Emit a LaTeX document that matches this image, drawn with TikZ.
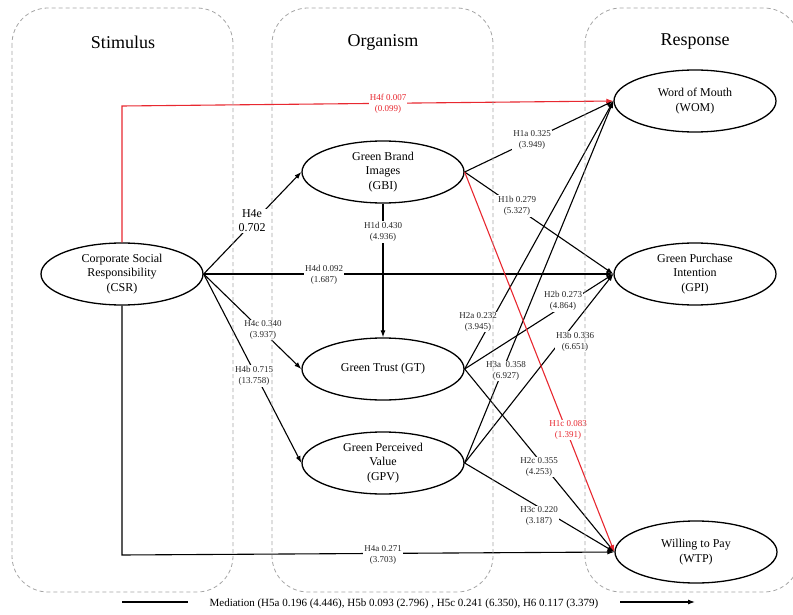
\documentclass[tikz,border=0pt]{standalone}
\usepackage{fontspec}
\setmainfont{Liberation Serif}
\usetikzlibrary{shapes.geometric,arrows.meta}
\definecolor{hred}{RGB}{232,40,48}
\definecolor{panelgray}{RGB}{165,165,165}
\begin{document}
\begin{tikzpicture}[x=1pt,y=-1pt,
  latent/.style={ellipse,draw,line width=1.3pt,minimum width=162pt,minimum height=62pt,inner sep=0pt,align=center,font=\fontsize{12}{14.5}\selectfont},
  panel/.style={draw=panelgray,dash pattern=on 4pt off 3pt,line width=0.8pt,rounded corners=36pt},
  paneltitle/.style={font=\fontsize{18}{20}\selectfont},
  conn/.style={line width=1.1pt,-{Latex[length=7pt,width=5pt]}},
  lbl/.style={fill=white,inner sep=1pt,align=center,text=black!85,font=\fontsize{9}{11}\selectfont},
  biglbl/.style={fill=white,inner sep=1pt,align=center,font=\fontsize{12}{14}\selectfont},
]
\useasboundingbox (0,0) rectangle (793,615);
\clip (0,0) rectangle (793,615);

% titles
\node[paneltitle] (tS) at (123,42) {Stimulus};
\node[paneltitle] (tO) at (383,42) {Organism};
\node[paneltitle] (tR) at (695,42) {Response};

% constructs
\node[latent] (CSR) at (122,274) {Corporate Social\\Responsibility\\(CSR)};
\node[latent] (GBI) at (383,172) {Green Brand\\Images\\(GBI)};
\node[latent] (GT)  at (383,369) {Green Trust (GT)};
\node[latent] (GPV) at (383,463) {Green Perceived\\Value\\(GPV)};
\node[latent] (WOM) at (695,101) {Word of Mouth\\(WOM)};
\node[latent] (GPI) at (695,274) {Green Purchase\\Intention\\(GPI)};
\node[latent] (WTP) at (696,552) {Willing to Pay\\(WTP)};

\coordinate (fk) at (122,106);
\coordinate (ak) at (122,555);
\coordinate (m1) at (122,602);
\coordinate (m2) at (695,602);

% connectors
\draw[conn] (CSR.east) -- (GBI.west);
\draw[conn] (CSR.east) -- (GT.west);
\draw[conn] (CSR.east) -- (GPV.west);
\draw[conn] (CSR.east) -- (GPI.west);
\draw[conn] (CSR.south) -- (ak) -- (WTP.west);
\draw[conn] (GBI.south) -- (GT.north);
\draw[conn] (GBI.east) -- (WOM.west);
\draw[conn] (GBI.east) -- (GPI.west);
\draw[conn] (GT.east) -- (WOM.west);
\draw[conn] (GT.east) -- (GPI.west);
\draw[conn] (GT.east) -- (WTP.west);
\draw[conn] (GPV.east) -- (WOM.west);
\draw[conn] (GPV.east) -- (GPI.west);
\draw[conn] (GPV.east) -- (WTP.west);
\draw[conn,hred] (CSR.north) -- (fk) -- (WOM.west);
\draw[conn,hred] (GBI.east) -- (WTP.west);

% path labels
\node[lbl,text=hred] (lH4f) at (388,104) {H4f 0.007\\(0.099)};
\node[biglbl] (lH4e) at (252,221) {H4e\\0.702};
\node[lbl] (lH4d) at (324,275) {H4d 0.092\\(1.687)};
\node[lbl] (lH4c) at (263,330) {H4c 0.340\\(3.937)};
\node[lbl] (lH4b) at (254,376) {H4b 0.715\\(13.758)};
\node[lbl] (lH4a) at (383,555) {H4a 0.271\\(3.703)};
\node[lbl] (lH1d) at (383,232) {H1d 0.430\\(4.936)};
\node[lbl] (lH1a) at (532,140) {H1a 0.325\\(3.949)};
\node[lbl] (lH1b) at (517,206) {H1b 0.279\\(5.327)};
\node[lbl,text=hred] (lH1c) at (568,430) {H1c 0.083\\(1.391)};
\node[lbl] (lH2a) at (478,322) {H2a 0.232\\(3.945)};
\node[lbl] (lH2b) at (563,301) {H2b 0.273\\(4.864)};
\node[lbl] (lH2c) at (539,467) {H2c 0.355\\(4.253)};
\node[lbl] (lH3a) at (506,371) {H3a\ \ 0.358\\(6.927)};
\node[lbl] (lH3b) at (575,342) {H3b 0.336\\(6.651)};
\node[lbl] (lH3c) at (539,516) {H3c 0.220\\(3.187)};

% mediation legend
\draw[line width=1.1pt,-{Latex[length=7pt,width=5pt]}] (m1) -- (m2);
\node[fill=white,inner xsep=22pt,inner ysep=2pt,font=\fontsize{11}{13}\selectfont] (med) at (404,604)
  {Mediation (H5a 0.196 (4.446), H5b 0.093 (2.796) , H5c 0.241 (6.350), H6 0.117 (3.379)};

% panels
\draw[panel] (12,8) rectangle (233,592);
\draw[panel] (272,8) rectangle (493,592);
\draw[panel] (585,8) rectangle (800,592);
\end{tikzpicture}
\end{document}
